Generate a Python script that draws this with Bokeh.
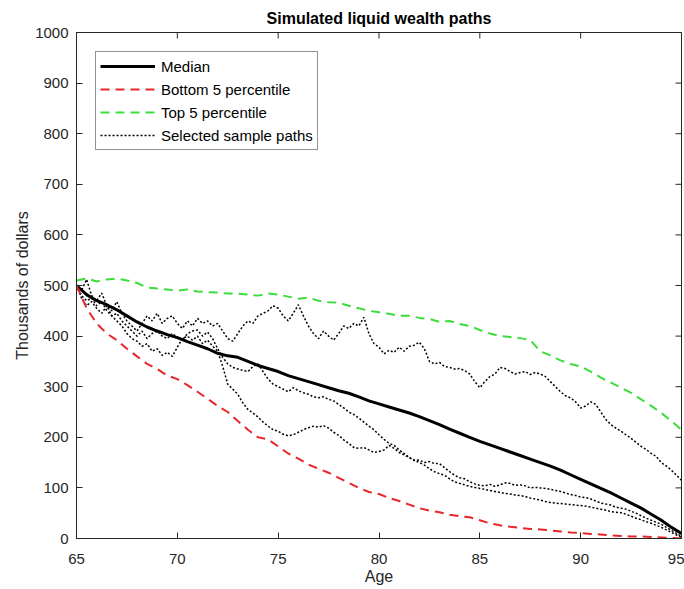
import numpy as np
from bokeh.plotting import figure
from bokeh.models import Legend, LegendItem, Range1d, FixedTicker
from bokeh.embed import file_html
from bokeh.resources import INLINE

# Ages on a half-year grid for the summary curves, quarter-year grid for sample paths
age_half = np.arange(65, 95.001, 0.5)
age_quarter = np.arange(65, 95.001, 0.25)

# Thousands of dollars, half-year steps
median = [
    500, 482, 470, 462, 452, 440, 428, 418, 410, 403,
    397, 389, 382, 375, 366, 361, 358, 350, 342, 336,
    330, 322, 316, 310, 304, 298, 292, 287, 280, 272,
    266, 260, 254, 248, 241, 233, 225, 216, 208, 200,
    192, 185, 178, 171, 164, 157, 150, 143, 135, 126,
    117, 108, 99, 90, 80, 70, 60, 48, 36, 22,
    10,
]
bottom5 = [
    500, 455, 425, 405, 392, 375, 360, 345, 335, 322,
    315, 303, 290, 276, 262, 250, 232, 215, 200, 196,
    182, 168, 158, 146, 138, 130, 120, 110, 100, 92,
    88, 80, 74, 67, 60, 55, 52, 47, 44, 42,
    36, 30, 26, 23, 21, 19, 18, 16, 14, 12,
    11, 9, 8, 6, 5, 4, 4, 3, 2, 1,
    0,
]
top5 = [
    510, 514, 508, 512, 514, 510, 505, 496, 494, 492,
    490, 492, 488, 487, 486, 484, 484, 482, 480, 484,
    482, 478, 474, 476, 470, 467, 466, 460, 455, 450,
    447, 444, 440, 440, 436, 434, 428, 430, 424, 420,
    412, 405, 400, 398, 396, 392, 370, 362, 352, 345,
    340, 330, 318, 308, 298, 288, 275, 262, 248, 232,
    215,
]

# Three simulated paths, quarter-year steps (one row per year of age)
path_a = [
    500, 490, 512, 480,
    470, 485, 460, 450,
    468, 445, 430, 420,
    410, 425, 440, 430,
    445, 425, 435, 440,
    425, 415, 430, 420,
    435, 425, 430, 420,
    425, 410, 395, 390,
    405, 420, 430, 425,
    440, 445, 450, 460,
    455, 440, 430, 445,
    462, 440, 420, 405,
    395, 410, 400, 392,
    405, 420, 415, 425,
    420, 437, 405, 385,
    378, 365, 372, 368,
    378, 370, 380, 382,
    388, 375, 350, 345,
    348, 340, 338, 335,
    336, 332, 325, 310,
    298, 310, 320, 325,
    338, 336, 330, 325,
    328, 330, 324, 328,
    325, 320, 310, 300,
    290, 282, 278, 270,
    258, 262, 270, 265,
    250, 235, 225, 218,
    212, 205, 198, 190,
    182, 176, 168, 162,
    150, 143, 135, 125,
    115,
]
path_b = [
    500, 480, 470, 475,
    460, 468, 450, 440,
    445, 430, 420, 410,
    400, 410, 395, 405,
    410, 400, 395, 405,
    398, 392, 405, 410,
    412, 400, 408, 395,
    375, 358, 345, 338,
    335, 332, 330, 340,
    345, 330, 315, 305,
    300, 295, 290, 298,
    292, 288, 285, 280,
    278, 280, 275, 272,
    265, 258, 250, 245,
    238, 230, 222, 215,
    205, 196, 188, 184,
    175, 168, 160, 154,
    155, 150, 152, 148,
    148, 140, 132, 125,
    120, 118, 112, 108,
    105, 104, 107, 103,
    106, 110, 109, 105,
    106, 104, 100, 101,
    100, 99, 97, 95,
    93, 90, 87, 85,
    82, 81, 78, 74,
    70, 68, 66, 62,
    60, 58, 54, 50,
    45, 40, 36, 32,
    28, 22, 16, 10,
    4,
]
path_c = [
    500, 475, 460, 468,
    455, 445, 460, 440,
    430, 420, 405, 395,
    390, 380, 385, 370,
    375, 362, 368, 360,
    378, 395, 400, 392,
    400, 385, 392, 380,
    370, 340, 305, 295,
    285, 268, 255, 248,
    240, 230, 222, 215,
    212, 206, 203, 205,
    210, 215, 219, 222,
    220, 223, 218, 210,
    204, 195, 188, 180,
    178, 180, 175, 170,
    172, 175, 184, 178,
    170, 165, 160, 155,
    150, 145, 138, 132,
    128, 125, 118, 112,
    109, 106, 103, 101,
    99, 97, 95, 93,
    91, 89, 88, 86,
    85, 83, 80, 78,
    76, 73, 71, 70,
    69, 68, 67, 66,
    65, 64, 62, 60,
    58, 56, 53, 52,
    51, 48, 44, 40,
    37, 33, 30, 26,
    22, 17, 12, 7,
    2,
]

x_ticks = [65, 70, 75, 80, 85, 90, 95]
y_ticks = [0, 100, 200, 300, 400, 500, 600, 700, 800, 900, 1000]

FONT = "Liberation Sans"
INK = "#262626"

p = figure(
    frame_width=605, frame_height=506,
    x_range=Range1d(65, 95), y_range=Range1d(0, 1000),
    output_backend="svg", toolbar_location=None,
    min_border_left=76, min_border_right=3,
    min_border_top=32, min_border_bottom=51,
    title="Simulated liquid wealth paths",
)
p.title.text_font = FONT
p.title.text_font_size = "16px"
p.title.text_font_style = "bold"
p.title.text_color = "#000000"
p.title.align = "center"
p.title.standoff = 12

p.xgrid.visible = False
p.ygrid.visible = False
p.outline_line_color = INK
p.outline_line_width = 1
p.background_fill_color = "white"
p.border_fill_color = "white"

def style_axis(ax):
    ax.axis_line_color = INK
    ax.major_tick_line_color = INK
    ax.major_tick_in = 6
    ax.major_tick_out = 0
    ax.minor_tick_in = 0
    ax.minor_tick_out = 0
    ax.major_label_text_font = FONT
    ax.major_label_text_color = INK
    ax.major_label_text_font_size = "15px"
    ax.axis_label_text_font = FONT
    ax.axis_label_text_color = INK
    ax.axis_label_text_font_style = "normal"
    ax.axis_label_text_font_size = "16px"

xa = p.xaxis[0]
xa.ticker = FixedTicker(ticks=x_ticks)
xa.axis_label = "Age"
style_axis(xa)
xa.major_label_standoff = 15
xa.axis_label_standoff = 1

ya = p.yaxis[0]
ya.ticker = FixedTicker(ticks=y_ticks)
ya.axis_label = "Thousands of dollars"
style_axis(ya)
ya.major_label_standoff = 8
ya.axis_label_standoff = 1

# Inward tick marks along the top and right edges of the box
p.scatter(x_ticks, [p.y_range.end] * len(x_ticks), marker="dash", angle=np.pi / 2,
          size=12, line_color=INK, line_width=1)
p.scatter([p.x_range.end] * len(y_ticks), y_ticks, marker="dash", angle=0,
          size=12, line_color=INK, line_width=1)

# Sample paths underneath, summary curves on top
r_a = p.line(age_quarter, path_a, line_color="black", line_width=1.5, line_dash="2 2")
p.line(age_quarter, path_b, line_color="black", line_width=1.5, line_dash="2 2")
p.line(age_quarter, path_c, line_color="black", line_width=1.5, line_dash="2 2")
r_med = p.line(age_half, median, line_color="black", line_width=3)
r_bot = p.line(age_half, bottom5, line_color="#e8262a", line_width=2, line_dash="9 6")
r_top = p.line(age_half, top5, line_color="#3cdc3c", line_width=2, line_dash="9 6")

legend = Legend(
    items=[
        LegendItem(label="Median", renderers=[r_med]),
        LegendItem(label="Bottom 5 percentile", renderers=[r_bot]),
        LegendItem(label="Top 5 percentile", renderers=[r_top]),
        LegendItem(label="Selected sample paths", renderers=[r_a]),
    ],
    location="top_left",
    margin=19,
    padding=4,
    spacing=3,
    glyph_width=55,
    glyph_height=20,
    label_standoff=6,
    label_text_font=FONT,
    label_text_font_size="15px",
    label_text_color="#000000",
    border_line_color=INK,
    border_line_width=1,
    background_fill_color="white",
    background_fill_alpha=1.0,
)
p.add_layout(legend, "center")

open("out.html", "w").write(file_html(p, INLINE))
